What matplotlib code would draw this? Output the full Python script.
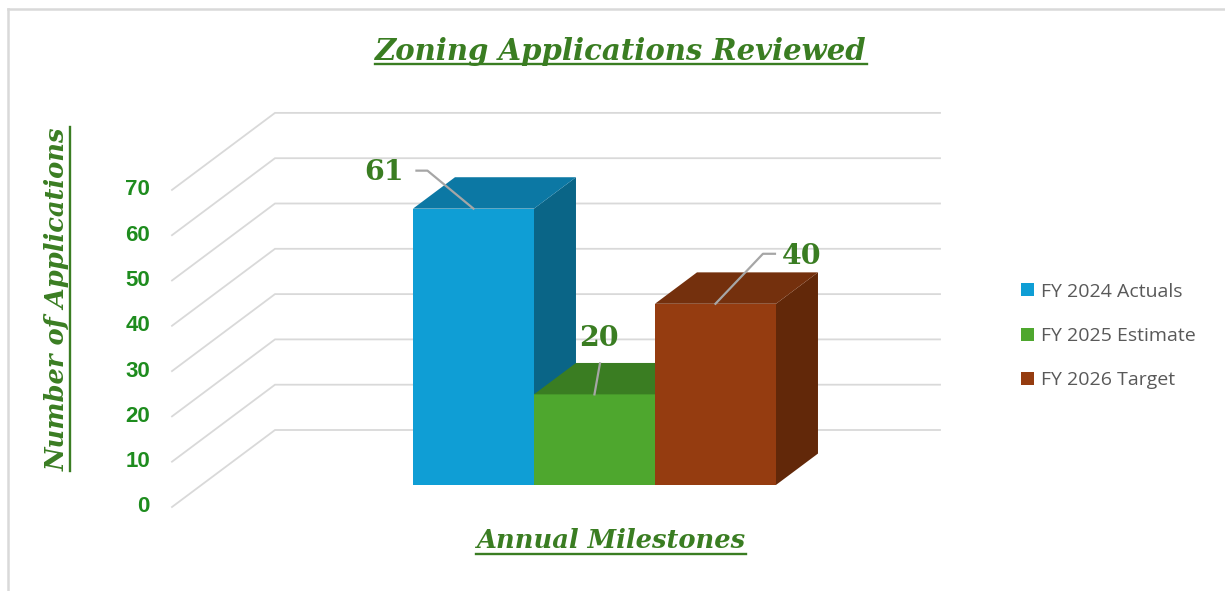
import matplotlib.pyplot as plt
from matplotlib.patches import Polygon, Patch
from matplotlib.lines import Line2D

categories = ['FY 2024 Actuals', 'FY 2025 Estimate', 'FY 2026 Target']
values = [61, 20, 40]
front_colors = ['#0F9ED5', '#4EA72E', '#953C10']
top_colors = ['#0C78A4', '#3A7D22', '#74300D']
side_colors = ['#0A6587', '#2F661C', '#622809']
y_ticks = [0, 10, 20, 30, 40, 50, 60, 70]

title = 'Zoning Applications Reviewed'
x_title = 'Annual Milestones'
y_title = 'Number of Applications'

GREEN = '#3A7D22'
TICK_GREEN = '#1E8C1E'
GRID = '#D9D9D9'

W, H = 1225, 591
fig = plt.figure(figsize=(W / 100, H / 100), dpi=100)
ax = fig.add_axes([0, 0, 1, 1])
ax.axis('off')

# axis units: x in bar widths, y in applications (front plane)
PX_X = 121.0
PX_Y = 4.53
x0_px, y0_px = 383.5, 507.0
ax.set_xlim(-x0_px / PX_X, (W - x0_px) / PX_X)
ax.set_ylim((y0_px - H) / PX_Y, y0_px / PX_Y)

# fake 3d: oblique depth offset
DX, DY = 103 / PX_X, 77 / PX_Y
wall_left, wall_right = -1.748, 3.748
bar_d0, bar_d1 = 0.286, 0.694


def proj(x, v, d):
    return x + d * DX, v + d * DY


# walls gridlines
for v in y_ticks:
    pts = [proj(wall_left, v, 0), proj(wall_left, v, 1), proj(wall_right, v, 1)]
    ax.plot([p[0] for p in pts], [p[1] for p in pts], color=GRID, lw=1.3,
            zorder=1, solid_joinstyle='miter')
    ax.text(-1.93, v, str(v), ha='right', va='center', fontsize=16,
            fontweight='bold', color=TICK_GREEN, family='Liberation Sans')

# bars, left to right so each one hides the previous side face
for i, v in enumerate(values):
    xl, xr = i, i + 1
    side = [proj(xr, 0, bar_d0), proj(xr, 0, bar_d1), proj(xr, v, bar_d1), proj(xr, v, bar_d0)]
    front = [proj(xl, 0, bar_d0), proj(xr, 0, bar_d0), proj(xr, v, bar_d0), proj(xl, v, bar_d0)]
    top = [proj(xl, v, bar_d0), proj(xr, v, bar_d0), proj(xr, v, bar_d1), proj(xl, v, bar_d1)]
    z = 2 + i * 3
    ax.add_patch(Polygon(side, closed=True, fc=side_colors[i], ec='none', zorder=z))
    ax.add_patch(Polygon(front, closed=True, fc=front_colors[i], ec='none', zorder=z + 1))
    ax.add_patch(Polygon(top, closed=True, fc=top_colors[i], ec='none', zorder=z + 2))

# data labels with leader lines (pixel offsets from the bar's front top edge)
label_offsets = [(-89, -36), (4.5, -56), (86.5, -47)]
leader_paths = [[(0, 0), (-46, -38), (-57, -38)],
                [(0, 0), (5.5, -31)],
                [(0, 0), (47.5, -50), (59.5, -50)]]
for i, v in enumerate(values):
    ax_, ay_ = proj(i + 0.5, v, bar_d0)
    xs = [ax_ + dx / PX_X for dx, dy in leader_paths[i]]
    ys = [ay_ - dy / PX_Y for dx, dy in leader_paths[i]]
    ax.plot(xs, ys, color='#A6A6A6', lw=1.6, zorder=20)
    dx, dy = label_offsets[i]
    ax.text(ax_ + dx / PX_X, ay_ - dy / PX_Y, str(v), ha='center', va='center',
            fontsize=20.5, fontweight='bold', color=GREEN, family='DejaVu Serif',
            zorder=21)

renderer = fig.canvas.get_renderer()


def underlined(xp, yp, s, gap, size, rotation=0):
    t = fig.text(xp / W, 1 - yp / H, s, ha='center', va='baseline', rotation=rotation,
                 rotation_mode='anchor', fontsize=size, fontweight='bold',
                 fontstyle='italic', color=GREEN, family='DejaVu Serif')
    bb = t.get_window_extent(renderer)
    if rotation == 0:
        fig.add_artist(Line2D([bb.x0 / W, bb.x1 / W], [1 - (yp + gap) / H] * 2,
                              color=GREEN, lw=1.7, transform=fig.transFigure))
    else:
        fig.add_artist(Line2D([(xp + gap) / W] * 2, [bb.y0 / H, bb.y1 / H],
                              color=GREEN, lw=1.7, transform=fig.transFigure))
    return t


underlined(621, 60, title, 4, 21)
underlined(611, 548, x_title, 6, 18.5)
underlined(65, 299, y_title, 5, 18.5, rotation=90)

handles = [Patch(fc=c, ec='none') for c in front_colors]
fig.legend(handles, categories, loc='center left',
           bbox_to_anchor=(1021 / W, 1 - 336 / H), frameon=False,
           labelcolor='#595959', handlelength=0.65, handleheight=0.65,
           handletextpad=0.4, labelspacing=1.35, borderpad=0, borderaxespad=0,
           prop={'family': 'Open Sans', 'size': 14})

# chart area border (top and left edges visible)
fig.add_artist(Line2D([8 / W, 1], [1 - 9 / H] * 2, color=GRID, lw=1.8,
                      transform=fig.transFigure))
fig.add_artist(Line2D([8 / W] * 2, [0, 1 - 9 / H], color=GRID, lw=1.8,
                      transform=fig.transFigure))

fig.savefig('out.png', dpi=100)
